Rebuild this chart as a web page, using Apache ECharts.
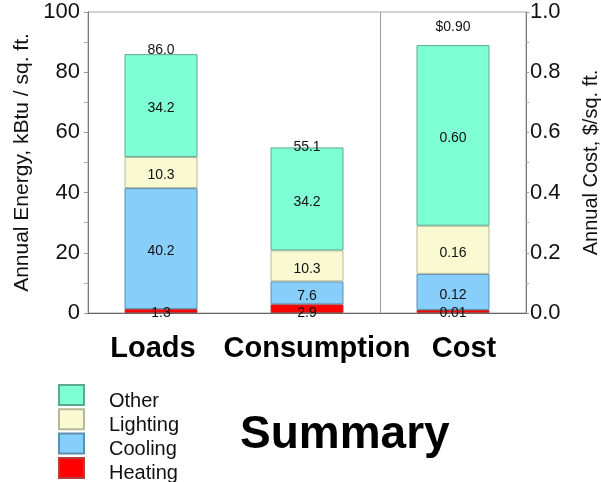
<!DOCTYPE html>
<html>
<head>
<meta charset="utf-8">
<script src="https://cdn.jsdelivr.net/npm/echarts@6/dist/echarts.min.js"></script>
<style>
  html, body { margin: 0; padding: 0; background: #fff; }
  #chart { width: 601px; height: 482px; }
</style>
</head>
<body>
<div id="chart"></div>
<script>
// Annual energy and cost breakdown per end use
const categories = ['Loads', 'Consumption', 'Cost'];
const heating  = [1.3, 2.9, 0.01];
const cooling  = [40.2, 7.6, 0.12];
const lighting = [10.3, 10.3, 0.16];
const other    = [34.2, 34.2, 0.60];
const totals   = [86.0, 55.1, 0.90];
const energyTicks = [0, 20, 40, 60, 80, 100];
const costTicks = [0.0, 0.2, 0.4, 0.6, 0.8, 1.0];
const legendOrder = ['Other', 'Lighting', 'Cooling', 'Heating'];
const costIndex = 2; // category plotted against the right-hand cost axis

// label placement tweaks for the totals above each stack (px)
const totalLabelGap = [-3, -7, 11];
// horizontal nudges of the category captions (px, + = right)
const captionShift = [-8, 10, 11];

const FONT = 'Liberation Sans, Arial, sans-serif';
const colors = {
  Heating: '#ff0000',
  Cooling: '#87cefa',
  Lighting: '#fafad2',
  Other: '#7fffd4'
};
const borders = {
  Heating: '#b04040',
  Cooling: '#5f8fb0',
  Lighting: '#b8b898',
  Other: '#5fa890'
};

function pick(arr, forCost) {
  return arr.map((v, i) => ((i === costIndex) === forCost ? v : '-'));
}

const parts = [
  ['Heating', heating],
  ['Cooling', cooling],
  ['Lighting', lighting],
  ['Other', other]
];

const series = [];
[false, true].forEach(forCost => {
  const stack = forCost ? 'cost' : 'energy';
  parts.forEach(([name, arr]) => {
    const isHeat = name === 'Heating';
    series.push({
      name: name,
      type: 'bar',
      stack: stack,
      yAxisIndex: forCost ? 1 : 0,
      barWidth: '50%',
      barGap: '-100%',
      data: pick(arr, forCost),
      itemStyle: { color: colors[name], borderColor: borders[name], borderWidth: 1 },
      label: {
        show: true,
        position: isHeat ? 'bottom' : 'inside',
        distance: isHeat ? -7 : 5,
        offset: isHeat ? [0, 0] : [0, 3],
        color: '#111',
        fontFamily: FONT,
        fontSize: 14,
        formatter: p => Number(p.value).toFixed(forCost ? 2 : 1)
      }
    });
  });
  // zero-height cap carrying the stack total
  series.push({
    name: 'Total',
    type: 'bar',
    stack: stack,
    yAxisIndex: forCost ? 1 : 0,
    barWidth: '50%',
    barGap: '-100%',
    itemStyle: { color: 'rgba(0,0,0,0)', borderWidth: 0 },
    data: categories.map((c, i) => ((i === costIndex) === forCost
      ? { value: 0, label: { distance: totalLabelGap[i] } } : '-')),
    label: {
      show: true,
      position: 'top',
      color: '#111',
      fontFamily: FONT,
      fontSize: 14,
      formatter: p => forCost ? '$' + totals[p.dataIndex].toFixed(2)
                              : totals[p.dataIndex].toFixed(1)
    }
  });
});

// divider between the energy columns and the cost column
series.push({
  name: 'divider',
  type: 'line',
  xAxisIndex: 1,
  yAxisIndex: 0,
  data: [],
  silent: true,
  markLine: {
    silent: true,
    symbol: ['none', 'none'],
    label: { show: false },
    lineStyle: { color: '#9a9a9a', width: 1, type: 'solid' },
    data: [{ xAxis: costIndex }]
  }
});

const rich = {};
captionShift.forEach((s, i) => {
  rich['c' + i] = {
    fontFamily: FONT, fontSize: 29, fontWeight: 'bold', color: '#000',
    padding: s >= 0 ? [0, 0, 0, 2 * s] : [0, -2 * s, 0, 0]
  };
});

// swatches and their captions are laid out as two aligned legends,
// so the captions can sit a little lower than the swatches
const legendBase = {
  data: legendOrder,
  orient: 'vertical',
  left: 58,
  height: 140,
  padding: 0,
  itemWidth: 25, itemHeight: 20, itemGap: 2.3,
  icon: 'rect',
  selectedMode: false
};

const chart = echarts.init(document.getElementById('chart'), null, { renderer: 'canvas' });
chart.setOption({
  animation: false,
  backgroundColor: '#fff',
  textStyle: { fontFamily: FONT },
  grid: {
    left: 88, right: 75, top: 12, bottom: 169,
    outerBoundsMode: 'none',
    containLabel: false,
    show: true, borderColor: '#a8a8a8', borderWidth: 1
  },
  legend: [
    Object.assign({}, legendBase, {
      top: 384,
      formatter: () => '',
      textStyle: { fontSize: 10, lineHeight: 20 }
    }),
    Object.assign({}, legendBase, {
      top: 390,
      itemStyle: { opacity: 0 },
      textStyle: {
        fontFamily: FONT, fontSize: 20, lineHeight: 20, color: '#111',
        padding: [0, 0, 0, 20]
      }
    })
  ],
  xAxis: [
    {
      type: 'category',
      data: categories,
      axisLine: { lineStyle: { color: '#666' } },
      axisTick: { show: false },
      splitLine: { show: false },
      axisLabel: {
        margin: 21,
        formatter: (v, i) => '{c' + i + '|' + v + '}',
        rich: rich
      }
    },
    {
      type: 'value',
      min: 0, max: categories.length,
      show: false
    }
  ],
  yAxis: [
    {
      type: 'value',
      min: energyTicks[0], max: energyTicks[energyTicks.length - 1],
      interval: energyTicks[1] - energyTicks[0],
      name: 'Annual Energy, kBtu / sq. ft.',
      nameLocation: 'middle', nameRotate: 90, nameGap: 55,
      nameTextStyle: { fontFamily: FONT, fontSize: 21, color: '#111' },
      axisLine: { show: true, lineStyle: { color: '#777' } },
      axisTick: { show: true, length: 4, lineStyle: { color: '#999' } },
      minorTick: { show: true, splitNumber: 2, length: 4, lineStyle: { color: '#aaa' } },
      splitLine: { show: false },
      axisLabel: { fontFamily: FONT, fontSize: 22, color: '#111', margin: 8 }
    },
    {
      type: 'value',
      min: costTicks[0], max: costTicks[costTicks.length - 1],
      interval: 0.2,
      position: 'right',
      name: 'Annual Cost, $/sq. ft.',
      nameLocation: 'middle', nameRotate: 90, nameGap: 55,
      nameTextStyle: { fontFamily: FONT, fontSize: 20, color: '#111' },
      axisLine: { show: true, lineStyle: { color: '#777' } },
      axisTick: { show: true, length: 3, lineStyle: { color: '#999' } },
      minorTick: { show: true, splitNumber: 2, length: 3, lineStyle: { color: '#aaa' } },
      splitLine: { show: false },
      axisLabel: {
        fontFamily: FONT, fontSize: 22, color: '#111', margin: 4,
        formatter: v => v.toFixed(1)
      }
    }
  ],
  graphic: [
    {
      type: 'text',
      left: 240, top: 412,
      style: {
        text: 'Summary',
        font: 'bold 46px ' + FONT,
        fill: '#000'
      }
    }
  ],
  series: series
});
</script>
</body>
</html>
